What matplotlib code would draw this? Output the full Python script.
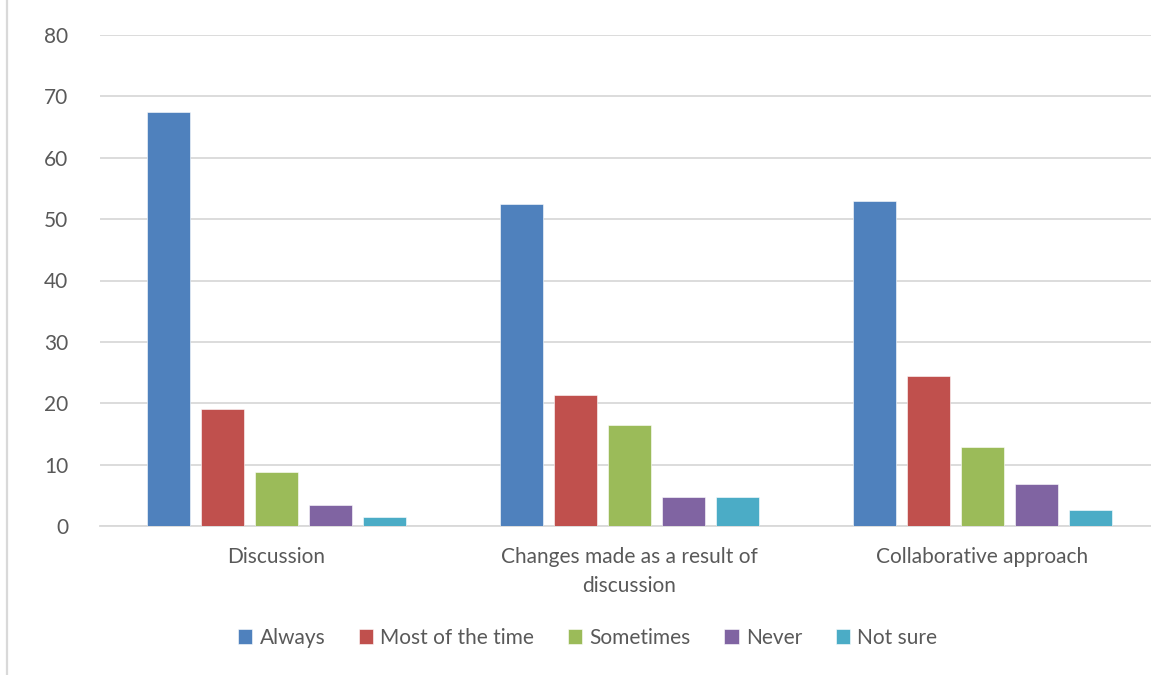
import matplotlib
matplotlib.use("Agg")
import matplotlib.pyplot as plt
from matplotlib.lines import Line2D
import numpy as np

categories = ["Discussion", "Changes made as a result of\ndiscussion", "Collaborative approach"]
series_names = ["Always", "Most of the time", "Sometimes", "Never", "Not sure"]
always = [67.5, 52.4, 53.0]
most_of_the_time = [19.0, 21.3, 24.4]
sometimes = [8.8, 16.5, 12.8]
never = [3.4, 4.8, 6.8]
not_sure = [1.4, 4.8, 2.6]
y_ticks = [0, 10, 20, 30, 40, 50, 60, 70, 80]

series_values = [always, most_of_the_time, sometimes, never, not_sure]
colors = ["#4F81BD", "#C0504D", "#9BBB59", "#8064A2", "#4BACC6"]

plt.rcParams["font.family"] = ["Lato", "DejaVu Sans"]
text_color = "#595959"
grid_color = "#D9D9D9"

W, H = 1151, 675
fig = plt.figure(figsize=(W / 100, H / 100), dpi=100)
fig.patch.set_facecolor("white")

# plot area in pixel terms (runs a bit past the right edge of the canvas)
left, right, top, bottom = 100, 1159, 35, 526
ax = fig.add_axes([left / W, (H - bottom) / H, (right - left) / W, (bottom - top) / H])

x = np.arange(len(categories))
bar_w = 43 / 353
step = 54 / 353
for i, (name, vals, c) in enumerate(zip(series_names, series_values, colors)):
    ax.bar(x + (i - 2) * step, vals, width=bar_w, color=c, label=name,
           edgecolor="white", linewidth=0.4, zorder=3)

ax.set_xlim(-0.5, 2.5)
ax.set_ylim(0, 80)
ax.set_yticks(y_ticks)
ax.set_xticks(x)
ax.set_xticklabels(categories, fontsize=15, color=text_color, linespacing=1.55)
ax.tick_params(axis="y", length=0, pad=23, labelsize=15, labelcolor=text_color)
ax.tick_params(axis="x", length=0, pad=15)
ax.grid(axis="y", color=grid_color, linewidth=1.3, zorder=0)
ax.set_axisbelow(True)
for s in ["top", "right", "left"]:
    ax.spines[s].set_visible(False)
ax.spines["bottom"].set_color(grid_color)
ax.spines["bottom"].set_linewidth(1.3)

# chart-area border on the left
fig.add_artist(Line2D([6.8 / W, 6.8 / W], [0, 1], transform=fig.transFigure,
                      color=grid_color, linewidth=1.6))

handles, labels = ax.get_legend_handles_labels()
fig.legend(handles, labels, loc="center", ncol=5, frameon=False,
           bbox_to_anchor=(587.5 / W, (H - 638) / H),
           fontsize=15, labelcolor=text_color,
           handlelength=0.7, handleheight=0.7, handletextpad=0.35,
           columnspacing=1.6)

fig.savefig("out.png", dpi=100, facecolor="white")
